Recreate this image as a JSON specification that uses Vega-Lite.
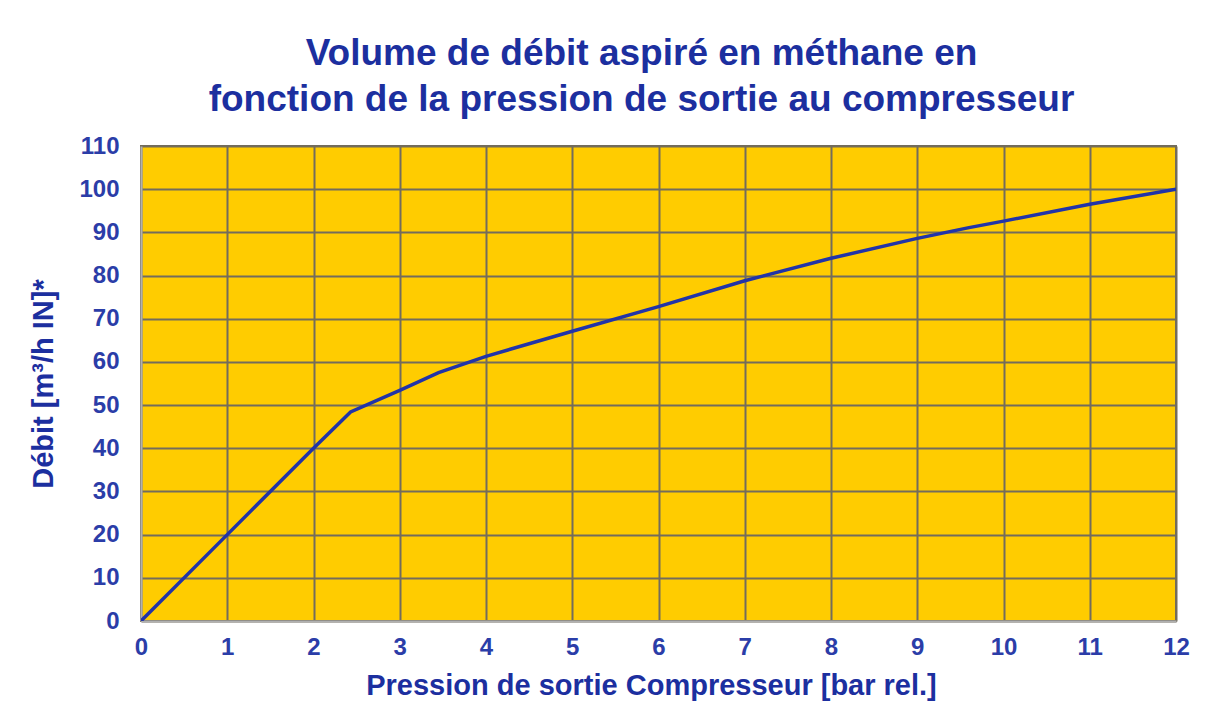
{
  "$schema": "https://vega.github.io/schema/vega-lite/v6.json",
  "autosize": {"type": "none"},
  "width": 1035,
  "height": 475,
  "padding": {"left": 141, "top": 146, "right": 36, "bottom": 103},
  "background": "white",
  "title": {
    "text": ["Volume de débit aspiré en méthane en", "fonction de la pression de sortie au compresseur"],
    "font": "Liberation Sans",
    "fontSize": 37,
    "fontWeight": "bold",
    "color": "#1c2f9f",
    "anchor": "middle",
    "frame": "group",
    "dx": -17,
    "offset": 15,
    "lineHeight": 46
  },
  "data": {
    "values": [
      {"p": 0, "d": 0},
      {"p": 1, "d": 20},
      {"p": 2, "d": 40},
      {"p": 2.43, "d": 48.4},
      {"p": 3, "d": 53.4},
      {"p": 3.45, "d": 57.5},
      {"p": 4, "d": 61.3},
      {"p": 5, "d": 67.1},
      {"p": 6, "d": 72.8},
      {"p": 7, "d": 78.8},
      {"p": 7.25, "d": 80.1},
      {"p": 8, "d": 84.0},
      {"p": 9, "d": 88.6},
      {"p": 9.6, "d": 91.1},
      {"p": 10, "d": 92.6},
      {"p": 11, "d": 96.5},
      {"p": 12, "d": 100}
    ]
  },
  "mark": {"type": "line", "color": "#2234a8", "strokeWidth": 3.5, "clip": true},
  "encoding": {
    "x": {
      "field": "p",
      "type": "quantitative",
      "scale": {"domain": [0, 12], "nice": false},
      "axis": {
        "title": "Pression de sortie Compresseur [bar rel.]",
        "values": [0, 1, 2, 3, 4, 5, 6, 7, 8, 9, 10, 11, 12],
        "format": "d",
        "labelFlush": false,
        "labelFontSize": 24,
        "labelFont": "Liberation Sans",
        "labelFontWeight": "bold",
        "labelColor": "#2b3da8",
        "labelPadding": 14,
        "ticks": false,
        "domain": true,
        "domainColor": "#b0b0b0",
        "domainWidth": 2,
        "grid": true,
        "gridColor": "#736c5c",
        "gridWidth": 2,
        "titleFont": "Liberation Sans",
        "titleFontSize": 29,
        "titleFontWeight": "bold",
        "titleColor": "#1c2f9f",
        "titlePadding": 12,
        "titleX": 510
      }
    },
    "y": {
      "field": "d",
      "type": "quantitative",
      "scale": {"domain": [0, 110], "nice": false},
      "axis": {
        "title": "Débit [m³/h IN]*",
        "values": [0, 10, 20, 30, 40, 50, 60, 70, 80, 90, 100, 110],
        "labelFontSize": 24,
        "labelFont": "Liberation Sans",
        "labelFontWeight": "bold",
        "labelColor": "#2b3da8",
        "labelPadding": 22,
        "labelFlush": false,
        "ticks": false,
        "domain": true,
        "domainColor": "#b0b0b0",
        "domainWidth": 2,
        "grid": true,
        "gridColor": "#736c5c",
        "gridWidth": 2,
        "titleFont": "Liberation Sans",
        "titleFontSize": 29,
        "titleFontWeight": "bold",
        "titleColor": "#1c2f9f",
        "titlePadding": 20
      }
    }
  },
  "config": {
    "view": {"fill": "#ffcc00", "stroke": "#736c5c", "strokeWidth": 2}
  }
}
